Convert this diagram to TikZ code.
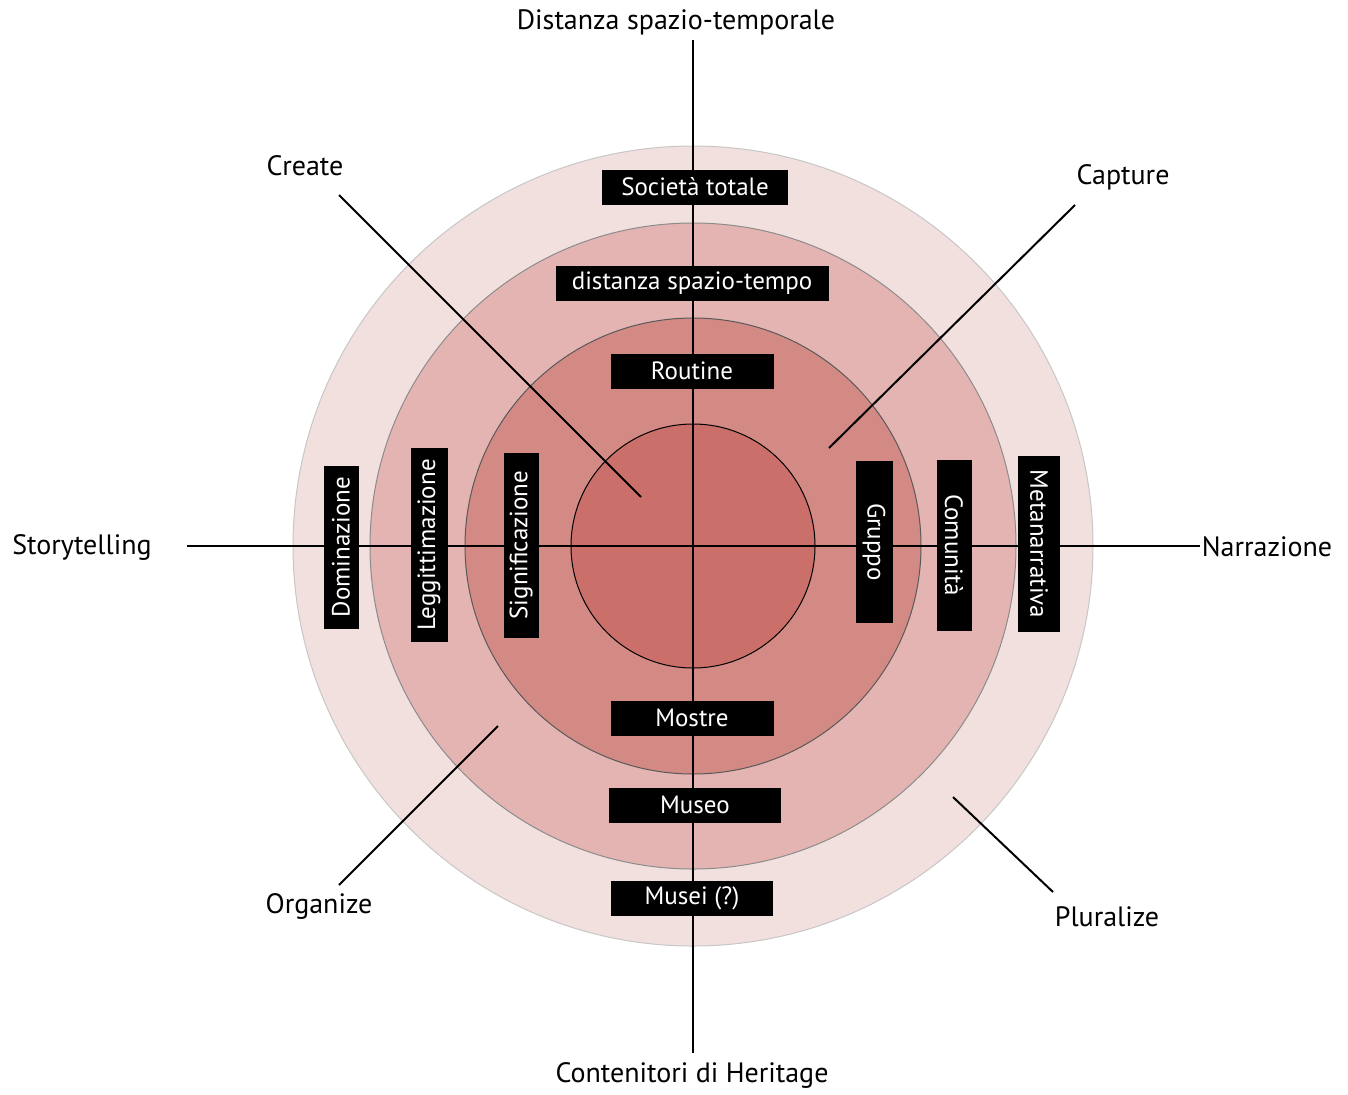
\documentclass[tikz,border=0pt]{standalone}
\usepackage{fontspec}
\setmainfont{PT Sans}
\usetikzlibrary{positioning}

\definecolor{ringout}{HTML}{F2E0DF}
\definecolor{ringtwo}{HTML}{E3B4B2}
\definecolor{ringthree}{HTML}{D48A84}
\definecolor{ringin}{HTML}{CA6F69}

\begin{document}
\begin{tikzpicture}[x=0.5pt, y=-0.5pt,
  every node/.style={font=\fontsize{14}{16}\selectfont},
  tag/.style={fill=black, text=white, inner sep=0pt, minimum height=17.5pt,
  font=\fontsize{12.5}{14}\selectfont},
  ring/.style={line width=0.5pt},
  axis/.style={line width=1pt}
]
\useasboundingbox (0,0) rectangle (1348,1094);
\coordinate (c) at (693,546);

% rings
\filldraw[ring, fill=ringout, draw=black!22] (c) circle[radius=400];
\filldraw[ring, fill=ringtwo, draw=black!45] (c) circle[radius=323];
\filldraw[ring, fill=ringthree, draw=black!65] (c) circle[radius=228];
\filldraw[ring, fill=ringin, draw=black] (c) circle[radius=122];

% axes
\node (ntop) at (676,22) {Distanza spazio-temporale};
\node (nbot) at (692,1075) {Contenitori di Heritage};
\node (nleft) at (82,547) {Storytelling};
\node (nright) at (1267,547) {Narrazione};
\coordinate (top) at (693,40);
\coordinate (bot) at (693,1053);
\coordinate (lft) at (187,546);
\coordinate (rgt) at (1200,546);
\draw[axis] (top) -- (bot);
\draw[axis] (lft) -- (rgt);

% diagonals
\node (create) at (305,166) {Create};
\node (capture) at (1123,177) {Capture};
\node (organize) at (319,906) {Organize};
\node (pluralize) at (1107,917) {Pluralize};
\coordinate (createA) at (339,195);
\coordinate (createB) at (641,497);
\coordinate (captureA) at (1075,205);
\coordinate (captureB) at (829,448);
\coordinate (organizeA) at (339,885);
\coordinate (organizeB) at (498,726);
\coordinate (pluralizeA) at (1053,892);
\coordinate (pluralizeB) at (953,797);
\draw[axis] (createA) -- (createB);
\draw[axis] (captureA) -- (captureB);
\draw[axis] (organizeA) -- (organizeB);
\draw[axis] (pluralizeA) -- (pluralizeB);

% tags
\node[tag, minimum width=93pt] (soc) at (695,187) {Società totale};
\node[tag, minimum width=136.5pt] (dist) at (692,283) {distanza spazio-tempo};
\node[tag, minimum width=81.5pt] (rout) at (692,371) {Routine};
\node[tag, minimum width=81.5pt] (most) at (692,718) {Mostre};
\node[tag, minimum width=86pt] (mus) at (695,805) {Museo};
\node[tag, minimum width=81pt] (musei) at (692,898) {Musei (?)};
\node[tag, rotate=90, minimum width=81.5pt] (dom) at (341,547) {Dominazione};
\node[tag, rotate=90, minimum width=97pt, minimum height=18.5pt] (leg) at (429,545) {Leggittimazione};
\node[tag, rotate=90, minimum width=92.5pt] (sig) at (521,545) {Significazione};
\node[tag, rotate=-90, minimum width=81pt, minimum height=18.5pt] (grp) at (874,542) {Gruppo};
\node[tag, rotate=-90, minimum width=85.5pt] (com) at (954,545) {Comunità};
\node[tag, rotate=-90, minimum width=88pt, minimum height=21pt] (meta) at (1039,544) {Metanarrativa};

\end{tikzpicture}
\end{document}
